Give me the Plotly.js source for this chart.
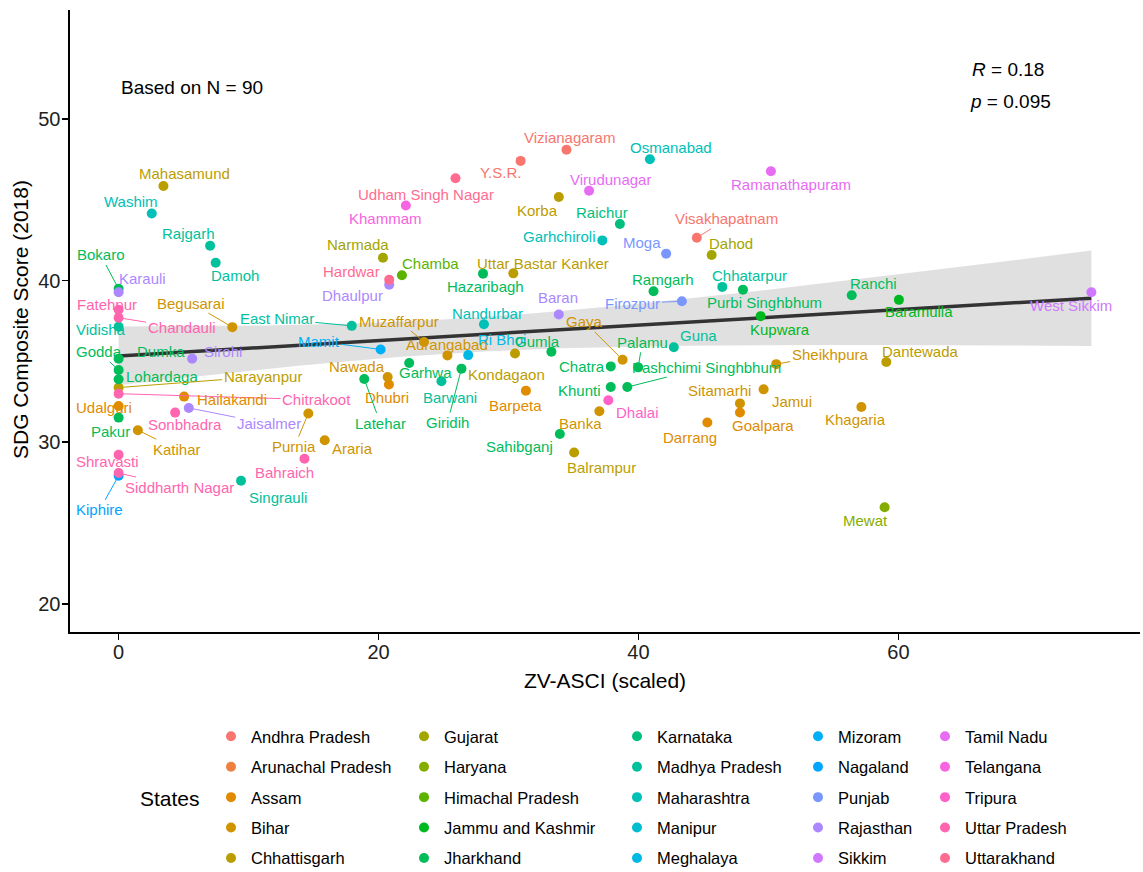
<!DOCTYPE html>
<html>
<head>
<meta charset="utf-8">
<script src="https://cdn.plot.ly/plotly-3.0.1.min.js"></script>
<style>
  html, body { margin: 0; padding: 0; background: #ffffff; }
  #chart { width: 1143px; height: 872px; }
</style>
</head>
<body>
<div id="chart"></div>
<script>
// ---- data -------------------------------------------------------------
const stateLevels = [
  "Andhra Pradesh", "Arunachal Pradesh", "Assam", "Bihar", "Chhattisgarh",
  "Gujarat", "Haryana", "Himachal Pradesh", "Jammu and Kashmir", "Jharkhand",
  "Karnataka", "Madhya Pradesh", "Maharashtra", "Manipur", "Meghalaya",
  "Mizoram", "Nagaland", "Punjab", "Rajasthan", "Sikkim",
  "Tamil Nadu", "Telangana", "Tripura", "Uttar Pradesh", "Uttarakhand"
];

const districts = [
  "Mahasamund", "Washim", "Rajgarh", "Damoh", "Bokaro", "Karauli", "Fatehpur", "Chandauli", "Vidisha", "Begusarai",
  "East Nimar", "Dumka", "Godda", "Lohardaga", "Narayanpur", "Chitrakoot", "Udalguri", "Pakur", "Shravasti", "Siddharth Nagar",
  "Kiphire", "Sirohi", "Hailakandi", "Sonbhadra", "Jaisalmer", "Katihar", "Purnia", "Araria", "Bahraich", "Singrauli",
  "Y.S.R.", "Udham Singh Nagar", "Khammam", "Narmada", "Chamba", "Hardwar", "Dhaulpur", "Hazaribagh", "Uttar Bastar Kanker", "Nandurbar",
  "Muzaffarpur", "Mamit", "Aurangabad", "Ri Bhoi", "Nawada", "Dhubri", "Latehar", "Garhwa", "Barwani", "Giridih",
  "Kondagaon", "Vizianagaram", "Osmanabad", "Virudunagar", "Korba", "Raichur", "Garhchiroli", "Moga", "Visakhapatnam", "Dahod",
  "Ramgarh", "Chhatarpur", "Purbi Singhbhum", "Firozpur", "Baran", "Gaya", "Gumla", "Guna", "Chatra", "Palamu",
  "Khunti", "Pashchimi Singhbhum", "Dhalai", "Banka", "Barpeta", "Sahibganj", "Balrampur", "Darrang", "Sitamarhi", "Goalpara",
  "Ramanathapuram", "Kupwara", "Ranchi", "Baramulla", "Sheikhpura", "Dantewada", "Jamui", "Khagaria", "Mewat", "West Sikkim"
];

const districtState = [
  "Chhattisgarh", "Maharashtra", "Madhya Pradesh", "Madhya Pradesh", "Jharkhand", "Rajasthan", "Uttar Pradesh", "Uttar Pradesh", "Madhya Pradesh", "Bihar",
  "Madhya Pradesh", "Jharkhand", "Jharkhand", "Jharkhand", "Chhattisgarh", "Uttar Pradesh", "Assam", "Jharkhand", "Uttar Pradesh", "Uttar Pradesh",
  "Nagaland", "Rajasthan", "Assam", "Uttar Pradesh", "Rajasthan", "Bihar", "Bihar", "Bihar", "Uttar Pradesh", "Madhya Pradesh",
  "Andhra Pradesh", "Uttarakhand", "Telangana", "Gujarat", "Himachal Pradesh", "Uttarakhand", "Rajasthan", "Jharkhand", "Chhattisgarh", "Maharashtra",
  "Bihar", "Mizoram", "Bihar", "Meghalaya", "Bihar", "Assam", "Jharkhand", "Jharkhand", "Madhya Pradesh", "Jharkhand",
  "Chhattisgarh", "Andhra Pradesh", "Maharashtra", "Tamil Nadu", "Chhattisgarh", "Karnataka", "Maharashtra", "Punjab", "Andhra Pradesh", "Gujarat",
  "Jharkhand", "Madhya Pradesh", "Jharkhand", "Punjab", "Rajasthan", "Bihar", "Jharkhand", "Madhya Pradesh", "Jharkhand", "Jharkhand",
  "Jharkhand", "Jharkhand", "Tripura", "Bihar", "Assam", "Jharkhand", "Chhattisgarh", "Assam", "Bihar", "Assam",
  "Tamil Nadu", "Jammu and Kashmir", "Jharkhand", "Jammu and Kashmir", "Bihar", "Chhattisgarh", "Bihar", "Bihar", "Haryana", "Sikkim"
];

const zvAsci = [
  3.45, 2.55, 7.04, 7.47, 0, 0, 0, 0, 0, 8.75,
  17.94, 0, 0, 0, 0, 0, 0, 0, 0, 0,
  0, 5.66, 5.04, 4.35, 5.40, 1.48, 14.60, 15.86, 14.30, 9.42,
  30.93, 25.92, 22.10, 20.34, 21.80, 20.82, 20.82, 28.04, 30.37, 28.11,
  23.50, 20.16, 25.30, 26.90, 20.70, 20.80, 18.90, 22.36, 24.84, 26.38,
  30.50, 34.46, 40.88, 36.20, 33.87, 38.57, 37.22, 42.13, 44.49, 45.63,
  41.16, 46.45, 48.04, 43.34, 33.87, 38.78, 33.30, 42.72, 37.87, 39.98,
  37.87, 39.14, 37.68, 36.99, 31.34, 33.95, 35.05, 45.30, 47.81, 47.81,
  50.19, 49.40, 56.41, 60.04, 50.60, 59.07, 49.63, 57.15, 58.94, 74.85
];

const sdgScore = [
  45.86, 44.15, 42.16, 41.11, 39.49, 39.28, 38.20, 37.70, 37.14, 37.12,
  37.20, 35.17, 34.47, 33.89, 33.38, 33.00, 32.24, 31.52, 29.22, 28.09,
  27.92, 35.17, 32.82, 31.83, 32.12, 30.74, 31.77, 30.12, 28.97, 27.61,
  47.41, 46.34, 44.65, 41.42, 40.33, 40.06, 39.75, 40.43, 40.45, 37.30,
  36.20, 35.74, 35.37, 35.39, 34.03, 33.57, 33.91, 34.90, 33.77, 34.55,
  35.49, 48.10, 47.51, 45.56, 45.17, 43.50, 42.49, 41.67, 42.65, 41.59,
  39.34, 39.61, 39.44, 38.72, 37.90, 35.10, 35.60, 35.88, 34.69, 34.63,
  33.41, 33.41, 32.59, 31.91, 33.19, 30.51, 29.36, 31.22, 32.40, 31.84,
  46.77, 37.80, 39.09, 38.81, 34.83, 34.96, 33.27, 32.18, 25.97, 39.28
];

const statsText = ["<i>R</i> = 0.18", "<i>p</i> = 0.095"];
const sampleText = "Based on N = 90";
const yTitle = "SDG Composite Score (2018)";
const xTitle = "ZV-ASCI (scaled)";

// ---- label placement (pixel offset of label centre from its point; 1 = draw leader) ----
const labelPlacement = {
  "Mahasamund": [21, -12, 0], "Washim": [-21, -12, 0], "Rajgarh": [-22, -12, 0], "Damoh": [19, 13, 0],
  "Bokaro": [-18, -34, 1], "Karauli": [24, -14, 0], "Fatehpur": [-12, -5, 0], "Chandauli": [63, 10, 1],
  "Vidisha": [-18, 3, 0], "Begusarai": [-41, -24, 1], "East Nimar": [-75, -7, 1], "Dumka": [42, -7, 0],
  "Godda": [-20, -18, 1], "Lohardaga": [43, -3, 0], "Narayanpur": [144, -11, 1], "Chitrakoot": [198, 6, 1],
  "Udalguri": [-15, 2, 0], "Pakur": [-8, 14, 0], "Shravasti": [-11, 7, 0], "Siddharth Nagar": [61, 14, 1],
  "Kiphire": [-19, 34, 1], "Sirohi": [31, -7, 0], "Hailakandi": [48, 3, 0], "Sonbhadra": [10, 12, 0],
  "Jaisalmer": [80, 16, 1], "Katihar": [39, 19, 1], "Purnia": [-14, 33, 1], "Araria": [28, 8, 0],
  "Bahraich": [-20, 14, 0], "Singrauli": [37, 17, 0], "Y.S.R.": [-20, 12, 0], "Udham Singh Nagar": [-29, 16, 0],
  "Khammam": [-20, 13, 0], "Narmada": [-25, -13, 0], "Chamba": [29, -12, 0], "Hardwar": [-38, -8, 0],
  "Dhaulpur": [-37, 11, 0], "Hazaribagh": [2, 13, 0], "Uttar Bastar Kanker": [30, -10, 0], "Nandurbar": [4, -11, 0],
  "Muzaffarpur": [-25, -21, 1], "Mamit": [-62, -8, 1], "Aurangabad": [0, -11, 0], "Ri Bhoi": [34, -16, 0],
  "Nawada": [-31, -11, 0], "Dhubri": [-2, 13, 0], "Latehar": [16, 44, 1], "Garhwa": [16, 9, 0],
  "Barwani": [9, 16, 0], "Giridih": [-14, 54, 1], "Kondagaon": [-9, 21, 0], "Vizianagaram": [3, -12, 0],
  "Osmanabad": [21, -12, 0], "Virudunagar": [21, -11, 0], "Korba": [-21, 13, 0], "Raichur": [-18, -12, 0],
  "Garhchiroli": [-43, -4, 0], "Moga": [-24, -11, 0], "Visakhapatnam": [30, -19, 1], "Dahod": [19, -11, 0],
  "Ramgarh": [9, -12, 0], "Chhatarpur": [27, -11, 0], "Purbi Singhbhum": [22, 13, 0], "Firozpur": [-49, 2, 1],
  "Baran": [-1, -17, 0], "Gaya": [-38, -38, 1], "Gumla": [-14, -10, 0], "Guna": [25, -12, 0],
  "Chatra": [-29, 0, 0], "Palamu": [4, -25, 1], "Khunti": [-31, 3, 0], "Pashchimi Singhbhum": [79, -20, 1],
  "Dhalai": [29, 12, 0], "Banka": [-19, 12, 0], "Barpeta": [-10, 15, 0], "Sahibganj": [-40, 13, 0],
  "Balrampur": [27, 15, 0], "Darrang": [-17, 15, 0], "Sitamarhi": [-20, -13, 0], "Goalpara": [23, 13, 0],
  "Ramanathapuram": [20, 13, 0], "Kupwara": [19, 13, 0], "Ranchi": [22, -12, 0], "Baramulla": [20, 12, 0],
  "Sheikhpura": [54, -10, 1], "Dantewada": [34, -11, 0], "Jamui": [28, 12, 0], "Khagaria": [-6, 13, 0],
  "Mewat": [-19, 13, 0], "West Sikkim": [-20, 13, 0]
};

// ---- colours: evenly spaced HCL hues (l = 65, c = 100) ----
function hclToHex(h, c, l) {
  const WU = 0.1978398, WV = 0.4683363, WY = 100;
  const hr = h * Math.PI / 180;
  const U = c * Math.cos(hr), V = c * Math.sin(hr);
  const Y = WY * (l > 7.999592 ? Math.pow((l + 16) / 116, 3) : l / 903.3);
  const u = U / (13 * l) + WU, v = V / (13 * l) + WV;
  const X = 9 * Y * u / (4 * v);
  const Z = -X / 3 - 5 * Y + 3 * Y / v;
  const g = t => (t > 0.00304 ? 1.055 * Math.pow(t, 1 / 2.4) - 0.055 : 12.92 * t);
  const rgb = [
    g((3.240479 * X - 1.537150 * Y - 0.498535 * Z) / WY),
    g((-0.969256 * X + 1.875992 * Y + 0.041556 * Z) / WY),
    g((0.055648 * X - 0.204043 * Y + 1.057311 * Z) / WY)
  ];
  return "#" + rgb.map(t => {
    const k = Math.round(Math.min(1, Math.max(0, t)) * 255);
    return k.toString(16).padStart(2, "0");
  }).join("");
}
const nLev = stateLevels.length;
const stateColor = {};
stateLevels.forEach((s, i) => {
  const hue = 15 + i * (360 / nLev);
  stateColor[s] = hclToHex(hue, 100, 65);
});

// ---- layout geometry helpers ----
const W = 1143, H = 872;
const M = { l: 70, r: 3, t: 10, b: 240, autoexpand: false };
const PW = W - M.l - M.r, PH = H - M.t - M.b;
const px2paperX = px => (px - M.l) / PW;
const py2paperY = py => (H - M.b - py) / PH;

const FONT = "Liberation Sans, Arial, Helvetica, sans-serif";

// ---- linear fit with 95% confidence band ----
const n = zvAsci.length;
const mx = zvAsci.reduce((a, b) => a + b, 0) / n;
const my = sdgScore.reduce((a, b) => a + b, 0) / n;
let sxx = 0, sxy = 0;
for (let i = 0; i < n; i++) {
  sxx += (zvAsci[i] - mx) ** 2;
  sxy += (zvAsci[i] - mx) * (sdgScore[i] - my);
}
const slope = sxy / sxx;
const icpt = my - slope * mx;
let sse = 0;
for (let i = 0; i < n; i++) sse += (sdgScore[i] - icpt - slope * zvAsci[i]) ** 2;
const sigma = Math.sqrt(sse / (n - 2));
const tCrit = 1.9873; // 97.5% quantile of t with 88 df
const xMin = Math.min(...zvAsci), xMax = Math.max(...zvAsci);
const fitX = [], fitY = [], upY = [], loY = [];
for (let k = 0; k < 80; k++) {
  const x = xMin + (xMax - xMin) * k / 79;
  const yhat = icpt + slope * x;
  const se = sigma * Math.sqrt(1 / n + (x - mx) ** 2 / sxx);
  fitX.push(x); fitY.push(yhat);
  upY.push(yhat + tCrit * se); loY.push(yhat - tCrit * se);
}

const traces = [];
traces.push({
  x: fitX.concat(fitX.slice().reverse()),
  y: upY.concat(loY.slice().reverse()),
  type: "scatter", mode: "lines", fill: "toself",
  fillcolor: "rgba(153,153,153,0.3)", line: { width: 0 },
  hoverinfo: "skip", showlegend: false
});
traces.push({
  x: fitX, y: fitY, type: "scatter", mode: "lines",
  line: { color: "#333333", width: 3.5 },
  hoverinfo: "skip", showlegend: false
});

// one trace per state; legend split into five columns
stateLevels.forEach((s, i) => {
  const xs = [], ys = [], names = [];
  districts.forEach((d, j) => {
    if (districtState[j] === s) { xs.push(zvAsci[j]); ys.push(sdgScore[j]); names.push(d); }
  });
  const col = Math.floor(i / 5);
  traces.push({
    x: xs.length ? xs : [null], y: ys.length ? ys : [null], text: names,
    type: "scatter", mode: "markers", name: s,
    marker: { color: stateColor[s], size: 10, line: { width: 0 } },
    legend: col === 0 ? "legend" : "legend" + (col + 1),
    legendgroup: s,
    hovertemplate: "%{text}<br>%{x}, %{y}<extra>" + s + "</extra>"
  });
});

// ---- district labels ----
const annotations = [];
districts.forEach((d, j) => {
  const p = labelPlacement[d] || [0, -12, 0];
  const color = stateColor[districtState[j]];
  const base = {
    x: zvAsci[j], y: sdgScore[j], xref: "x", yref: "y", text: d,
    font: { family: FONT, size: 15, color: color }
  };
  if (p[2]) {
    annotations.push(Object.assign(base, {
      showarrow: true, ax: p[0], ay: p[1], axref: "pixel", ayref: "pixel",
      arrowhead: 0, arrowwidth: 1, arrowcolor: color, standoff: 4
    }));
  } else {
    annotations.push(Object.assign(base, {
      showarrow: false, xanchor: "center", yanchor: "middle",
      xshift: p[0], yshift: -p[1]
    }));
  }
});

// ---- text annotations ----
annotations.push({
  xref: "paper", yref: "paper", x: px2paperX(192), y: py2paperY(88),
  text: sampleText, showarrow: false, xanchor: "center", yanchor: "middle",
  font: { family: FONT, size: 19, color: "#000000" }
});
annotations.push({
  xref: "paper", yref: "paper", x: px2paperX(970), y: py2paperY(69),
  text: statsText[0], showarrow: false, xanchor: "left", yanchor: "middle",
  font: { family: FONT, size: 19, color: "#000000" }
});
annotations.push({
  xref: "paper", yref: "paper", x: px2paperX(968), y: py2paperY(102),
  text: statsText[1], showarrow: false, xanchor: "left", yanchor: "middle",
  font: { family: FONT, size: 19, color: "#000000" }
});
annotations.push({
  xref: "paper", yref: "paper", x: px2paperX(170), y: py2paperY(798),
  text: "States", showarrow: false, xanchor: "center", yanchor: "middle",
  font: { family: FONT, size: 21, color: "#000000" }
});
// vertical axis title
annotations.push({
  xref: "paper", yref: "paper", x: px2paperX(20), y: py2paperY(320),
  text: yTitle, textangle: -90, showarrow: false, xanchor: "center", yanchor: "middle",
  font: { family: FONT, size: 21, color: "#000000" }
});

// ---- legend columns (placed against the whole figure) ----
const legendCols = [211, 404, 617, 798, 925];
const legendTop = 719;
function legendSpec(px) {
  return {
    xref: "container", yref: "container",
    x: px / W, y: 1 - legendTop / H, xanchor: "left", yanchor: "top",
    orientation: "v", bgcolor: "rgba(0,0,0,0)", borderwidth: 0,
    font: { family: FONT, size: 16.5, color: "#000000" },
    tracegroupgap: 6, traceorder: "grouped"
  };
}

const axisCommon = {
  showgrid: false, zeroline: false, showline: true, linecolor: "#000000", linewidth: 1.6,
  ticks: "outside", ticklen: 6, tickwidth: 1.6, tickcolor: "#000000",
  tickfont: { family: FONT, size: 20, color: "#222222" },
  mirror: false
};

const layout = {
  width: W, height: H,
  margin: M,
  paper_bgcolor: "#ffffff", plot_bgcolor: "#ffffff",
  font: { family: FONT },
  xaxis: Object.assign({}, axisCommon, {
    range: [-3.74, 78.59], tickvals: [0, 20, 40, 60],
    ticklabelstandoff: -5,
    title: { text: xTitle, font: { family: FONT, size: 21, color: "#000000" }, standoff: 12 }
  }),
  yaxis: Object.assign({}, axisCommon, {
    range: [18.25, 56.75], tickvals: [20, 30, 40, 50],
    ticklabelstandoff: -2
  }),
  showlegend: true,
  legend: legendSpec(legendCols[0]),
  legend2: legendSpec(legendCols[1]),
  legend3: legendSpec(legendCols[2]),
  legend4: legendSpec(legendCols[3]),
  legend5: legendSpec(legendCols[4]),
  annotations: annotations
};

Plotly.newPlot("chart", traces, layout, { displayModeBar: false, staticPlot: true });
</script>
</body>
</html>
